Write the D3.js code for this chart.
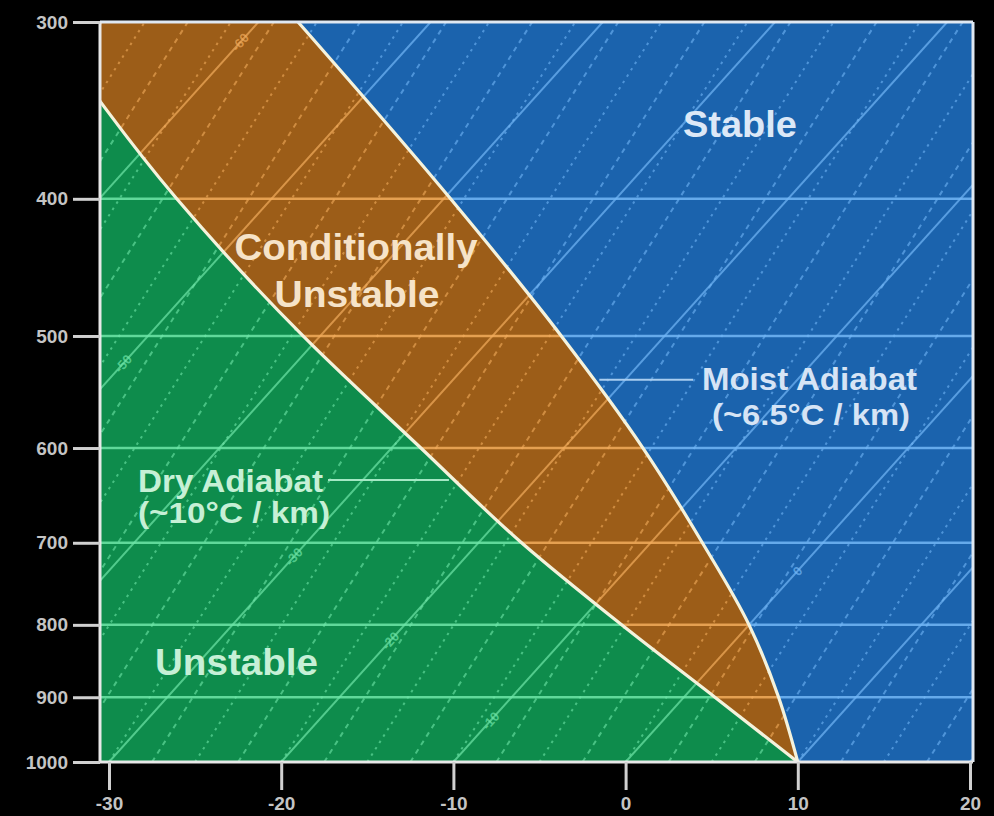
<!DOCTYPE html>
<html>
<head>
<meta charset="utf-8">
<script src="https://cdn.jsdelivr.net/npm/d3@7"></script>
<style>
  html, body { margin: 0; padding: 0; background: #000; }
  svg { display: block; }
  text { font-family: "Liberation Sans", Arial, Helvetica, sans-serif; }
</style>
</head>
<body>
<svg id="chart" width="994" height="816"></svg>
<script>
// ---- data -------------------------------------------------------------
// Pressure axis (hPa) and temperature axis (°C) tick values
const pressureTicks = [300, 400, 500, 600, 700, 800, 900, 1000];
const tempTicks = [-30, -20, -10, 0, 10, 20];

// Pressure levels at which the two adiabats are sampled
const levels = [1000, 900, 800, 700, 600, 500, 400, 300];
// Dry adiabat starting at 10 °C / 1000 hPa (°C at each level)
const dryAdiabat = [10, 1.8, -7.4, -17.5, -28.3, -41.0, -55.5, -72.5];
// Moist adiabat starting at 10 °C / 1000 hPa (°C at each level)
const moistAdiabat = [10, 5.5, 0.0, -7.0, -15.4, -26.0, -39.6, -57.7];

// Skewed background isotherms (°C)
const isotherms = [-70, -60, -50, -40, -30, -20, -10, 0, 10, 20];
// Isotherm labels: temperature and the pressure level the label sits on
const isothermLabelT = [-60, -50, -30, -20, -10, 0];
const isothermLabelP = [310, 523, 716, 821, 935, 733];

// Dashed guide lines, identified by their temperature at 1000 hPa
const guideLines = [-57.5, -55, -52.5, -50, -47.5, -45, -42.5, -40, -37.5, -35,
  -32.5, -30, -27.5, -25, -22.5, -20, -17.5, -15, -12.5, -10, -7.5, -5, -2.5,
  0, 2.5, 5, 7.5, 10, 12.5, 15, 17.5, 20];
// Temperature change of a guide line between 1000 and 300 hPa
const guideDrift = -11.6;

// ---- layout -----------------------------------------------------------
const svg = d3.select("#chart");
const plot = { left: 100, right: 973, top: 22, bottom: 762 };

const x = d3.scaleLinear().domain([-30, 20]).range([109, 970]);
const y = d3.scaleLog().domain([300, 1000]).range([plot.top, plot.bottom]);
const skew = 0.9;                       // horizontal px per px of height
const sx = (t, p) => x(t) + skew * (y(1000) - y(p));

// fill and grid-line tint of each stability region
const regions = [
  { id: "stable", fill: "#1b63ad", line: "#72b6f6", text: "#d6e4f5" },
  { id: "conditional", fill: "#9c5d18", line: "#f2ac5c", text: "#f6e3c8" },
  { id: "unstable", fill: "#0e8c4c", line: "#6fe6a8", text: "#c6f0d6" }
];
const regionOf = Object.fromEntries(regions.map(r => [r.id, r]));

svg.append("rect").attr("width", 994).attr("height", 816).attr("fill", "#000");

const defs = svg.append("defs");
defs.append("clipPath").attr("id", "plotClip")
  .append("rect")
  .attr("x", plot.left).attr("y", plot.top)
  .attr("width", plot.right - plot.left).attr("height", plot.bottom - plot.top);

const g = svg.append("g").attr("clip-path", "url(#plotClip)");

// ---- stability regions ------------------------------------------------
const rows = levels.map((p, i) => ({ p, dry: dryAdiabat[i], moist: moistAdiabat[i] }))
  .sort((a, b) => a.p - b.p);

const regionArea = {
  stable: d3.area().curve(d3.curveMonotoneY).y(d => y(d.p))
    .x0(d => sx(d.moist, d.p)).x1(plot.right + 300),
  conditional: d3.area().curve(d3.curveMonotoneY).y(d => y(d.p))
    .x0(d => sx(d.dry, d.p)).x1(d => sx(d.moist, d.p)),
  unstable: d3.area().curve(d3.curveMonotoneY).y(d => y(d.p))
    .x0(plot.left - 300).x1(d => sx(d.dry, d.p))
};

regions.forEach(r => {
  const d = regionArea[r.id](rows);
  g.append("path").attr("d", d).attr("fill", r.fill);
  defs.append("clipPath").attr("id", `clip-${r.id}`)
    .append("path").attr("d", d);
});

// ---- background grid, tinted per region -------------------------------
const angle = -Math.atan2(1, skew) * 180 / Math.PI;
const isobarLevels = pressureTicks.filter(p => p > 300 && p < 1000);

regions.forEach(r => {
  const grid = g.append("g").attr("clip-path", `url(#clip-${r.id})`);

  grid.selectAll("line.guide").data(guideLines).join("line")
    .attr("class", "guide")
    .attr("x1", t => sx(t, 1000)).attr("y1", y(1000))
    .attr("x2", t => sx(t + guideDrift, 300)).attr("y2", y(300))
    .attr("stroke", r.line)
    .attr("stroke-opacity", 0.6)
    .attr("stroke-width", 2)
    .attr("stroke-dasharray", (t, i) => i % 2 ? "2.5,5" : "5,5");

  grid.selectAll("line.isotherm").data(isotherms).join("line")
    .attr("class", "isotherm")
    .attr("x1", t => sx(t, 1000)).attr("y1", y(1000))
    .attr("x2", t => sx(t, 300)).attr("y2", y(300))
    .attr("stroke", r.line)
    .attr("stroke-opacity", 0.7)
    .attr("stroke-width", 2);

  grid.selectAll("line.isobar").data(isobarLevels).join("line")
    .attr("class", "isobar")
    .attr("x1", plot.left).attr("x2", plot.right)
    .attr("y1", d => y(d)).attr("y2", d => y(d))
    .attr("stroke", r.line)
    .attr("stroke-opacity", 0.85)
    .attr("stroke-width", 2.5);

  grid.selectAll("text.isoLabel").data(isothermLabelT).join("text")
    .attr("class", "isoLabel")
    .attr("transform", (t, i) => `translate(${sx(t, isothermLabelP[i])},${y(isothermLabelP[i])}) rotate(${angle})`)
    .attr("text-anchor", "middle")
    .attr("dy", "0.35em")
    .attr("font-size", 13)
    .attr("font-weight", "bold")
    .attr("fill", r.line)
    .attr("fill-opacity", 0.7)
    .text(t => t);
});

// ---- adiabat boundaries -----------------------------------------------
const boundary = key => d3.line().curve(d3.curveMonotoneY)
  .x(d => sx(d[key], d.p)).y(d => y(d.p));

g.append("path").datum(rows)
  .attr("fill", "none").attr("stroke", "#f4f2dc").attr("stroke-width", 3.2)
  .attr("d", boundary("dry"));
g.append("path").datum(rows)
  .attr("fill", "none").attr("stroke", "#f4f2dc").attr("stroke-width", 3.2)
  .attr("d", boundary("moist"));

// ---- frame --------------------------------------------------------------
svg.append("line").attr("x1", plot.left).attr("x2", plot.right)
  .attr("y1", plot.top).attr("y2", plot.top)
  .attr("stroke", "#dfe8f2").attr("stroke-width", 3);
svg.append("line").attr("x1", plot.right).attr("x2", plot.right)
  .attr("y1", plot.top).attr("y2", plot.bottom)
  .attr("stroke", "#dfe8f2").attr("stroke-width", 3);
svg.append("line").attr("x1", plot.left).attr("x2", plot.left)
  .attr("y1", plot.top).attr("y2", plot.bottom)
  .attr("stroke", "#e8e8e8").attr("stroke-width", 3);
svg.append("line").attr("x1", plot.left).attr("x2", plot.right)
  .attr("y1", plot.bottom).attr("y2", plot.bottom)
  .attr("stroke", "#e8e8e8").attr("stroke-width", 3);

// ---- axes ---------------------------------------------------------------
const yAxis = svg.append("g")
  .attr("transform", `translate(${plot.left},0)`)
  .call(d3.axisLeft(y).tickValues(pressureTicks).tickFormat(d => String(d))
    .tickSize(27).tickPadding(5));
const xAxis = svg.append("g")
  .attr("transform", `translate(0,${plot.bottom})`)
  .call(d3.axisBottom(x).tickValues(tempTicks).tickFormat(d => String(d))
    .tickSize(28).tickPadding(7));

[yAxis, xAxis].forEach(a => {
  a.select(".domain").remove();
  a.selectAll(".tick line").attr("stroke", "#d0d0d0").attr("stroke-width", 3);
  a.selectAll(".tick text")
    .attr("fill", "#c4c4c4")
    .attr("font-size", 19)
    .attr("font-weight", "bold")
    .attr("font-family", "'Liberation Sans', Arial, sans-serif");
});

// ---- annotations --------------------------------------------------------
const notes = svg.append("g").attr("font-weight", "bold");

function note(txt, xPos, yBase, size, width, fill, anchor) {
  notes.append("text")
    .attr("x", xPos).attr("y", yBase)
    .attr("font-size", size)
    .attr("fill", fill)
    .attr("text-anchor", anchor || "start")
    .attr("textLength", width)
    .attr("lengthAdjust", "spacingAndGlyphs")
    .text(txt);
}

note("Stable", 683, 137, 37, 114, "#dce8f7");
note("Conditionally", 356, 260, 37, 243, regionOf.conditional.text, "middle");
note("Unstable", 357, 307, 37, 165, regionOf.conditional.text, "middle");
note("Dry Adiabat", 138, 492, 32, 185, regionOf.unstable.text);
note("(~10°C / km)", 138, 523, 30, 192, regionOf.unstable.text);
note("Moist Adiabat", 702, 390, 32, 215, regionOf.stable.text);
note("(~6.5°C / km)", 712, 425, 30, 198, regionOf.stable.text);
note("Unstable", 155, 675, 37, 163, regionOf.unstable.text);

// leader lines from the labels to the adiabats
notes.append("line")
  .attr("x1", 328).attr("x2", sx(-25, 632)).attr("y1", y(632)).attr("y2", y(632))
  .attr("stroke", "#a4e8c4").attr("stroke-width", 2);
notes.append("line")
  .attr("x1", sx(-21.5, 537)).attr("x2", 693).attr("y1", y(537)).attr("y2", y(537))
  .attr("stroke", "#a9cdf0").attr("stroke-width", 2);
</script>
</body>
</html>
